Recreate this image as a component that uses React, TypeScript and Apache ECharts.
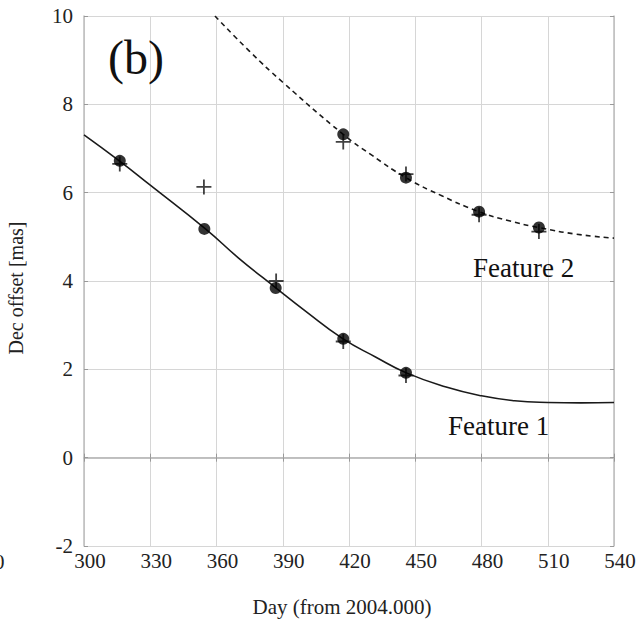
import React, { useEffect, useRef } from "react";
import * as echarts from "echarts";

const xTicks = [300, 330, 360, 390, 420, 450, 480, 510, 540];
const yTicks = [-2, 0, 2, 4, 6, 8, 10];

// Feature 1 measurements
const f1DotDays = [316.2, 354.5, 386.8, 417.4, 445.8];
const f1DotDec = [6.72, 5.18, 3.84, 2.69, 1.92];
const f1PlusDays = [316.2, 354.3, 387.0, 417.4, 445.8];
const f1PlusDec = [6.65, 6.13, 4.0, 2.63, 1.86];

// Feature 2 measurements
const f2DotDays = [417.4, 445.8, 478.9, 506.0];
const f2DotDec = [7.32, 6.34, 5.57, 5.21];
const f2PlusDays = [417.4, 445.8, 478.9, 506.0];
const f2PlusDec = [7.15, 6.42, 5.5, 5.12];

// Fitted curves
const f1CurveDays = [300, 316, 330, 355, 370, 387, 400, 417, 432, 446, 464, 480, 495, 510, 525, 540];
const f1CurveDec = [7.31, 6.72, 6.17, 5.18, 4.52, 3.84, 3.33, 2.7, 2.28, 1.92, 1.6, 1.4, 1.29, 1.25, 1.24, 1.25];
const f2CurveDays = [359.3, 375, 390, 417.4, 430, 445.8, 462, 478.9, 492, 506, 523, 540];
const f2CurveDec = [10, 9.2, 8.5, 7.32, 6.86, 6.34, 5.93, 5.57, 5.37, 5.21, 5.06, 4.97];

const zip = (a: number[], b: number[]) => a.map((v, i) => [v, b[i]]);

const FONT = "'Liberation Serif', 'DejaVu Serif', serif";
const PLUS = "path://M4.4,0h1.2v10h-1.2z M0,4.4h10v1.2h-10z";

export default function App() {
  const ref = useRef<HTMLDivElement>(null);
  useEffect(() => {
    if (!ref.current) return;
    const chart = echarts.init(ref.current, undefined, { renderer: "svg" });
    const frame = { show: true, lineStyle: { color: "#bdbdbd", width: 1.5 } };
    const tick = { show: true, inside: true, length: 4, lineStyle: { color: "#999" } };
    const split = { show: true, lineStyle: { color: "#d6d6d6", width: 1 } };
    chart.setOption({
      animation: false,
      backgroundColor: "#fff",
      grid: { left: 84, top: 16, width: 530, height: 530, containLabel: false, outerBoundsMode: "none" },
      xAxis: [
        {
          type: "value",
          min: 300,
          max: 540,
          interval: 30,
          position: "bottom",
          name: "Day (from 2004.000)",
          nameLocation: "middle",
          nameGap: 50,
          nameTextStyle: { fontFamily: FONT, fontSize: 21, color: "#222", padding: [0, 14, 0, 0] },
          axisLine: frame,
          axisTick: tick,
          splitLine: split,
          axisLabel: {
            fontFamily: FONT,
            fontSize: 21,
            color: "#222",
            margin: 4,
            padding: [0, 0, 0, 12],
            formatter: (v: number) => (xTicks.includes(v) ? String(v) : ""),
          },
        },
        {
          type: "value",
          min: 300,
          max: 540,
          interval: 30,
          position: "top",
          axisLine: frame,
          axisTick: tick,
          splitLine: { show: false },
          axisLabel: { show: false },
        },
      ],
      yAxis: [
        {
          type: "value",
          min: -2,
          max: 10,
          interval: 2,
          position: "left",
          name: "Dec offset [mas]",
          nameLocation: "middle",
          nameGap: 58,
          nameTextStyle: { fontFamily: FONT, fontSize: 20, color: "#222", padding: [0, 14, 0, 0] },
          axisLine: frame,
          axisTick: tick,
          splitLine: split,
          axisLabel: {
            fontFamily: FONT,
            fontSize: 21,
            color: "#222",
            margin: 11,
            formatter: (v: number) => (yTicks.includes(v) ? String(v) : ""),
          },
        },
        {
          type: "value",
          min: -2,
          max: 10,
          interval: 2,
          position: "right",
          axisLine: frame,
          axisTick: tick,
          splitLine: { show: false },
          axisLabel: { show: false },
        },
      ],
      series: [
        {
          type: "line",
          data: zip(f1CurveDays, f1CurveDec),
          smooth: 0.5,
          showSymbol: false,
          symbol: "none",
          lineStyle: { color: "#1a1a1a", width: 1.6 },
          z: 2,
        },
        {
          type: "line",
          data: zip(f2CurveDays, f2CurveDec),
          smooth: 0.5,
          showSymbol: false,
          symbol: "none",
          lineStyle: { color: "#1a1a1a", width: 1.6, type: [5, 4] },
          z: 2,
        },
        {
          type: "scatter",
          data: zip(f1PlusDays, f1PlusDec),
          symbol: PLUS,
          symbolSize: 15,
          itemStyle: { color: "#111" },
          z: 3,
        },
        {
          type: "scatter",
          data: zip(f2PlusDays, f2PlusDec),
          symbol: PLUS,
          symbolSize: 15,
          itemStyle: { color: "#111" },
          z: 3,
        },
        {
          type: "scatter",
          data: zip(f1DotDays, f1DotDec),
          symbol: "circle",
          symbolSize: 12,
          itemStyle: { color: "#000" },
          z: 4,
        },
        {
          type: "scatter",
          data: zip(f2DotDays, f2DotDec),
          symbol: "circle",
          symbolSize: 12,
          itemStyle: { color: "#000" },
          z: 4,
        },
      ],
      graphic: [
        {
          type: "text",
          x: 136,
          y: 57,
          style: {
            text: "(b)",
            fontFamily: FONT,
            fontSize: 48,
            fill: "#111",
            textAlign: "center",
            textVerticalAlign: "middle",
          },
          z: 10,
        },
        {
          type: "text",
          x: 473,
          y: 268,
          style: {
            text: "Feature 2",
            fontFamily: FONT,
            fontSize: 27,
            fill: "#111",
            textAlign: "left",
            textVerticalAlign: "middle",
          },
          z: 10,
        },
        {
          type: "text",
          x: 448,
          y: 426,
          style: {
            text: "Feature 1",
            fontFamily: FONT,
            fontSize: 27,
            fill: "#111",
            textAlign: "left",
            textVerticalAlign: "middle",
          },
          z: 10,
        },
        {
          type: "text",
          x: -6,
          y: 562,
          style: {
            text: "0",
            fontFamily: FONT,
            fontSize: 21,
            fill: "#222",
            textAlign: "left",
            textVerticalAlign: "middle",
          },
          z: 10,
        },
      ],
    });
    return () => chart.dispose();
  }, []);
  return <div ref={ref} style={{ width: 639, height: 623, position: "absolute", left: 0, top: 0 }} />;
}
